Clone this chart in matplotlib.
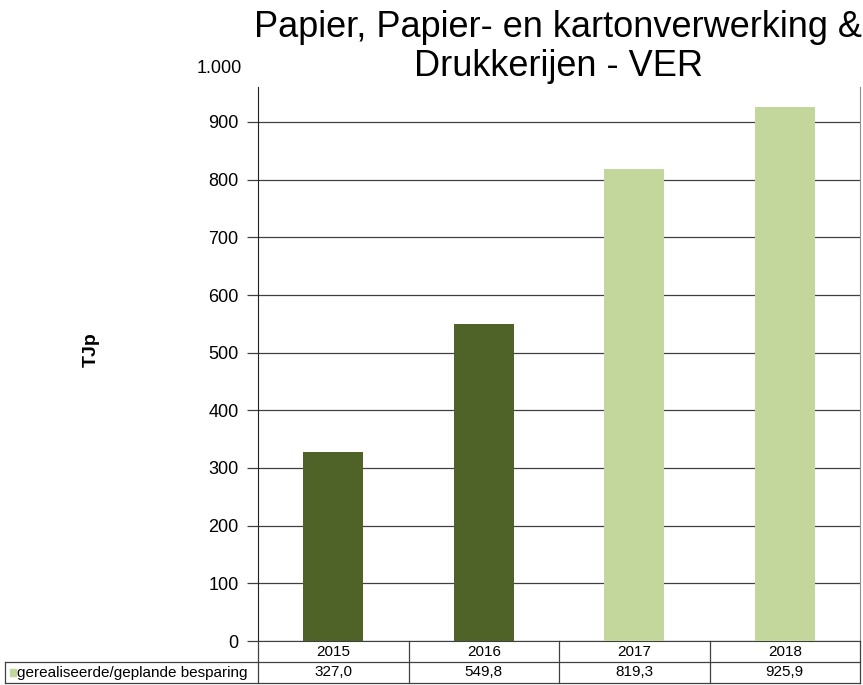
import matplotlib.pyplot as plt
from matplotlib.patches import Rectangle
from matplotlib.lines import Line2D

plt.rcParams['font.family'] = ['Liberation Sans', 'DejaVu Sans']

# data
years = ["2015", "2016", "2017", "2018"]
savings = [327.0, 549.8, 819.3, 925.9]
bar_colors = ["#4F6228", "#4F6228", "#C3D69B", "#C3D69B"]
series_label = "gerealiseerde/geplande besparing"
title = "Papier, Papier- en kartonverwerking &\nDrukkerijen - VER"
yticks = [0, 100, 200, 300, 400, 500, 600, 700, 800, 900]

W, H = 863, 685
fig = plt.figure(figsize=(W / 100, H / 100), dpi=100)

# plot area in pixels
left, right, top, bottom = 258, 860, 87, 641
ax = fig.add_axes([left / W, 1 - bottom / H, (right - left) / W, (bottom - top) / H])

x = range(len(years))
ax.bar(x, savings, width=0.4, color=bar_colors, zorder=3)
ax.set_xlim(-0.5, len(years) - 0.5)
ymax = 900 + (122 - top) / ((641 - 122) / 900)
ax.set_ylim(0, ymax)
ax.set_yticks(yticks)
ax.set_yticklabels([f"{v:,}".replace(",", ".") for v in yticks], fontsize=13)
ax.set_xticks([])
ax.yaxis.grid(True, color="#404040", linewidth=0.9, zorder=0)
ax.tick_params(axis="y", length=8, width=0.9, color="#404040", pad=6)
ax.spines["top"].set_visible(False)
ax.spines["right"].set_color("#909090")
ax.spines["left"].set_color("#202020")
ax.spines["bottom"].set_color("#404040")

# 1.000 label above the clipped plot area (its gridline is hidden in the original)
ax.text(-16 / (right - left), 993, "1.000", fontsize=13,
        ha="right", va="center", transform=ax.get_yaxis_transform(), clip_on=False)

ax.set_ylabel("TJp", fontsize=14, fontweight="bold", labelpad=0)
ax.yaxis.set_label_coords((100 - left) / (right - left), (bottom - 350) / (bottom - top))

fig.text(558 / W, 1 - 47 / H, title, fontsize=26, ha="center", va="center",
         linespacing=1.12)

# data table below the axis
row1_bottom, row2_bottom = 662, 683
tab_left = 5
col_edges = [left + i * (right - left) / len(years) for i in range(len(years) + 1)]
lc = "#404040"


def fx(px):
    return px / W


def fy(py):
    return 1 - py / H


lines = []
for xe in col_edges:
    lines.append(Line2D([fx(xe), fx(xe)], [fy(bottom), fy(row2_bottom)]))
lines.append(Line2D([fx(tab_left), fx(tab_left)], [fy(row1_bottom), fy(row2_bottom)]))
lines.append(Line2D([fx(tab_left), fx(right)], [fy(row1_bottom), fy(row1_bottom)]))
lines.append(Line2D([fx(tab_left), fx(right)], [fy(row2_bottom), fy(row2_bottom)]))
for ln in lines:
    ln.set_color(lc)
    ln.set_linewidth(0.9)
    fig.add_artist(ln)

for i, (yr, v) in enumerate(zip(years, savings)):
    cx = (col_edges[i] + col_edges[i + 1]) / 2
    fig.text(fx(cx), fy((bottom + row1_bottom) / 2), yr, fontsize=11,
             ha="center", va="center")
    fig.text(fx(cx), fy((row1_bottom + row2_bottom) / 2),
             f"{v:.1f}".replace(".", ","), fontsize=11, ha="center", va="center")

fig.add_artist(Rectangle((fx(10), fy(676)), 6 / W, 7 / H, color=bar_colors[2],
                         transform=fig.transFigure))
fig.text(fx(17), fy((row1_bottom + row2_bottom) / 2), series_label, fontsize=11,
         ha="left", va="center")

fig.savefig("out.png", dpi=100)
